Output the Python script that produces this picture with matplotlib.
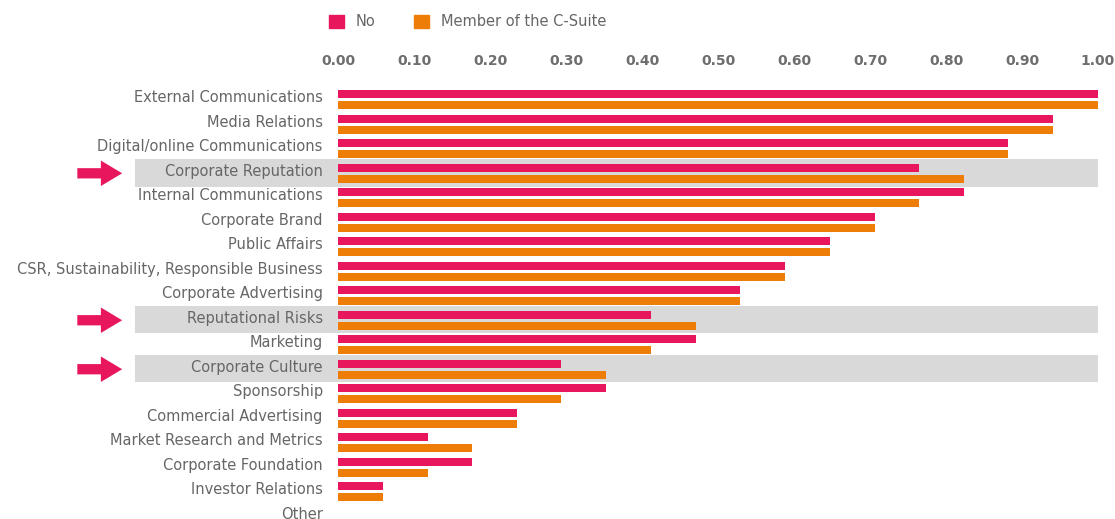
import matplotlib.pyplot as plt
import numpy as np
from matplotlib.patches import Patch, Rectangle, Polygon

categories = [
    "External Communications",
    "Media Relations",
    "Digital/online Communications",
    "Corporate Reputation",
    "Internal Communications",
    "Corporate Brand",
    "Public Affairs",
    "CSR, Sustainability, Responsible Business",
    "Corporate Advertising",
    "Reputational Risks",
    "Marketing",
    "Corporate Culture",
    "Sponsorship",
    "Commercial Advertising",
    "Market Research and Metrics",
    "Corporate Foundation",
    "Investor Relations",
    "Other",
]
no_values = [1.000, 0.941, 0.882, 0.765, 0.824, 0.706, 0.647, 0.588, 0.529,
             0.412, 0.471, 0.294, 0.353, 0.235, 0.118, 0.176, 0.059, 0.0]
csuite_values = [1.000, 0.941, 0.882, 0.824, 0.765, 0.706, 0.647, 0.588, 0.529,
                 0.471, 0.412, 0.353, 0.294, 0.235, 0.176, 0.118, 0.059, 0.0]
highlighted = ["Corporate Reputation", "Reputational Risks", "Corporate Culture"]
xticks = np.arange(0, 1.01, 0.1)

PINK = '#e8175d'
ORANGE = '#ee7d08'
GREY = '#d9d9d9'
TEXT = '#666666'

plt.rcParams['font.family'] = 'DejaVu Sans'

fig = plt.figure(figsize=(11.15, 5.19), dpi=100)
ax = fig.add_axes([338 / 1115, -0.004, 760 / 1115, 433.5 / 519])

y = np.arange(len(categories))
ax.barh(y - 0.23, no_values, height=0.33, color=PINK, zorder=2)
ax.barh(y + 0.23, csuite_values, height=0.33, color=ORANGE, zorder=2)

# grey band + arrow for the rows we want to call out
for name in highlighted:
    i = categories.index(name)
    ax.add_patch(Rectangle((-0.267, i - 0.6), 1.267, 1.14, color=GREY,
                           zorder=0, clip_on=False, lw=0))
    arrow = [(-0.343, i - 0.21), (-0.312, i - 0.21), (-0.312, i - 0.52),
             (-0.284, i), (-0.312, i + 0.52), (-0.312, i + 0.21),
             (-0.343, i + 0.21)]
    ax.add_patch(Polygon(arrow, closed=True, color=PINK, lw=0,
                         clip_on=False, zorder=3))

ax.set_xlim(0, 1)
ax.set_ylim(17.2, -0.5)
# labels sit a touch above the middle of each bar pair
ax.set_yticks(y - 0.15)
ax.set_yticklabels(categories, fontsize=10.5, color=TEXT)
ax.xaxis.tick_top()
ax.set_xticks(xticks)
ax.set_xticklabels([f"{t:.2f}" for t in xticks], fontsize=10, color='#6e6e6e',
                   fontweight='semibold')
ax.tick_params(axis='y', length=0, pad=11)
ax.tick_params(axis='x', length=0, pad=14)
for s in ax.spines.values():
    s.set_visible(False)

handles = [Patch(color=PINK, label='No'),
           Patch(color=ORANGE, label='Member of the C-Suite')]
fig.legend(handles=handles, loc='center left',
           bbox_to_anchor=(329 / 1115, 1 - 22 / 519), ncol=2, frameon=False,
           handlelength=1.05, handleheight=1.05, handletextpad=0.8,
           columnspacing=2.6, fontsize=10.5, labelcolor=TEXT,
           borderpad=0, borderaxespad=0)

fig.savefig('out.png', dpi=100)
